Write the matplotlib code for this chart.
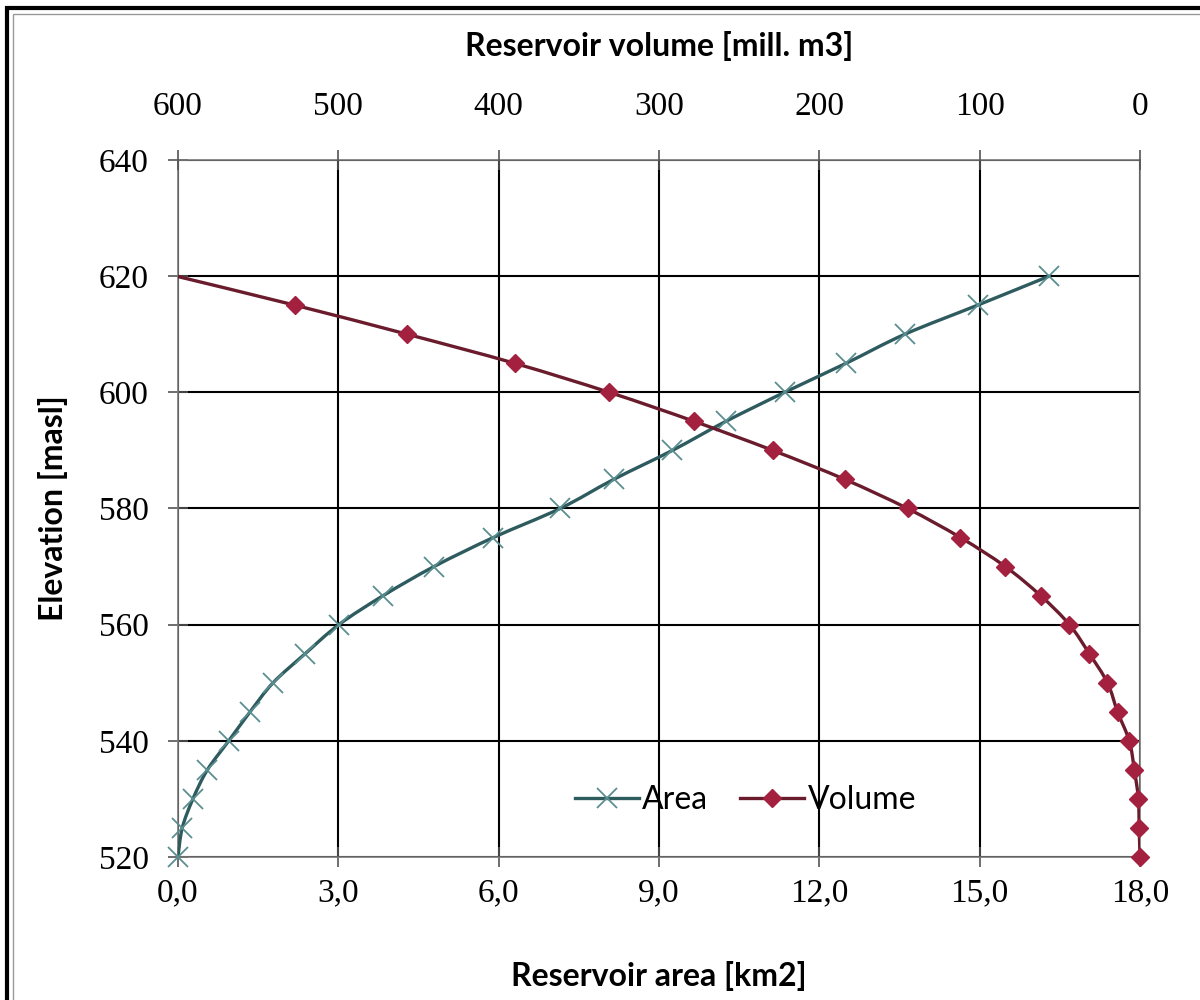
import numpy as np
import matplotlib.pyplot as plt
from matplotlib.patches import Rectangle, PathPatch
from matplotlib.path import Path
from matplotlib.lines import Line2D

elevation = [520, 525, 530, 535, 540, 545, 550, 555, 560, 565, 570,
             575, 580, 585, 590, 595, 600, 605, 610, 615, 620]
area = [0.0, 0.08, 0.28, 0.55, 0.95, 1.35, 1.78, 2.38, 3.01, 3.84, 4.79,
        5.9, 7.15, 8.15, 9.25, 10.25, 11.35, 12.5, 13.6, 14.96, 16.3]
volume = [0.0, 0.5, 1.0, 3.5, 6.7, 14.0, 20.3, 31.6, 44.0, 62.0, 84.0,
          112.0, 145.0, 184.0, 229.0, 278.0, 331.0, 390.0, 457.0, 527.0, 601.0]

area_ticks = [0, 3, 6, 9, 12, 15, 18]
volume_ticks = [600, 500, 400, 300, 200, 100, 0]
elev_ticks = [520, 540, 560, 580, 600, 620, 640]

area_line, area_mark = '#2E5B5E', '#5A8E90'
vol_line, vol_mark = '#6A1C2C', '#A3203F'

tick_font = {'family': 'Liberation Serif', 'size': 24}
label_font = {'family': 'Lato', 'size': 23, 'weight': 'bold'}


def smooth_path(xs, ys):
    # excel-like smoothed line: cubic bezier through the points
    p = np.column_stack([xs, ys]).astype(float)
    verts = [p[0]]
    codes = [Path.MOVETO]
    n = len(p)
    for i in range(n - 1):
        p0 = p[i - 1] if i > 0 else p[i]
        p3 = p[i + 2] if i + 2 < n else p[i + 1]
        c1 = p[i] + (p[i + 1] - p0) / 6
        c2 = p[i + 1] - (p3 - p[i]) / 6
        verts += [c1, c2, p[i + 1]]
        codes += [Path.CURVE4] * 3
    return Path(verts, codes)


fig = plt.figure(figsize=(12, 10), dpi=100)
ax = fig.add_axes([0.1483, 0.143, 0.8017, 0.697])

ax.add_patch(PathPatch(smooth_path(area, elevation), fill=False, ec=area_line,
                       lw=2.4, zorder=3))
ax.plot(area, elevation, ls='none', marker='x', ms=15, mec=area_mark, mew=1.3,
        zorder=4, clip_on=False)
ax.set_xlim(0, 18)
ax.set_ylim(520, 640)
ax.set_xticks(area_ticks)
ax.set_xticklabels([f'{t:.1f}'.replace('.', ',') for t in area_ticks], fontdict=tick_font)
ax.set_yticks(elev_ticks)
ax.set_yticklabels([str(t) for t in elev_ticks], fontdict=tick_font)
ax.grid(True, color='black', lw=1.5)
ax.tick_params(direction='inout', length=14, width=1.2, color='#555555')
ax.tick_params(axis='x', pad=8)
ax.tick_params(axis='y', pad=14)
for s in ax.spines.values():
    s.set_color('#777777')
    s.set_linewidth(1.2)
ax.set_xlabel('Reservoir area [km2]', fontdict=label_font, labelpad=38)
ax.set_ylabel('Elevation [masl]', fontdict=label_font, labelpad=22)

ax2 = ax.twiny()
ax2.add_patch(PathPatch(smooth_path(volume, elevation), fill=False, ec=vol_line,
                        lw=2.4, zorder=3))
ax2.plot(volume[:-1], elevation[:-1], ls='none', marker='D', ms=9,
         mfc=vol_mark, mec=vol_mark, zorder=4, clip_on=False)
ax2.set_xlim(600, 0)
ax2.set_xticks(volume_ticks)
ax2.set_xticklabels([str(t) for t in volume_ticks], fontdict=tick_font)
ax2.tick_params(direction='inout', length=14, width=1.2, color='#555555', pad=20)
for s in ax2.spines.values():
    s.set_visible(False)
ax2.set_xlabel('Reservoir volume [mill. m3]', fontdict=label_font, labelpad=26)

handles = [Line2D([], [], color=area_line, lw=2.4, marker='x', ms=15,
                  mec=area_mark, mew=1.3),
           Line2D([], [], color=vol_line, lw=2.4, marker='D', ms=9,
                  mfc=vol_mark, mec=vol_mark)]
ax2.legend(handles, ['Area', 'Volume'], loc='center', bbox_to_anchor=(0.59, 0.082),
           ncol=2, frameon=False, prop={'family': 'Lato', 'size': 23},
           handlelength=2.0, handletextpad=0.1, columnspacing=1.0)

fig.add_artist(Rectangle((0.006, -0.05), 1.2, 1.042, transform=fig.transFigure,
                         fill=False, ec='black', lw=3))
fig.add_artist(Rectangle((0.011, -0.05), 1.2, 1.036, transform=fig.transFigure,
                         fill=False, ec='#999999', lw=1))

fig.savefig('out.png', dpi=100, facecolor='white')
